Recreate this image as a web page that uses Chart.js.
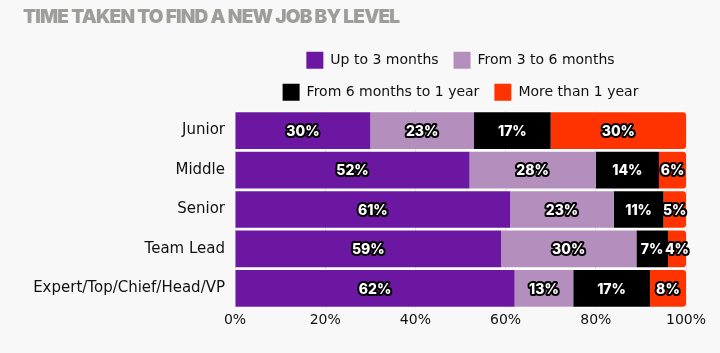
<!DOCTYPE html>
<html>
<head>
<meta charset="utf-8">
<script src="https://cdn.jsdelivr.net/npm/chart.js@4/dist/chart.umd.min.js"></script>
<style>
  html, body { margin: 0; padding: 0; background: #f8f8f8; }
  #wrap { width: 720px; height: 353px; position: relative; }
</style>
</head>
<body>
<div id="wrap"><canvas id="jobChart"></canvas></div>
<script>
// time taken to find a new job, by level (%)
const levels = ['Junior', 'Middle', 'Senior', 'Team Lead', 'Expert/Top/Chief/Head/VP'];
const seriesNames = ['Up to 3 months', 'From 3 to 6 months', 'From 6 months to 1 year', 'More than 1 year'];
const upTo3 = [30, 52, 61, 59, 62];
const from3to6 = [23, 28, 23, 30, 13];
const from6to12 = [17, 14, 11, 7, 17];
const moreThan1y = [30, 6, 5, 4, 8];
const xTicks = [0, 20, 40, 60, 80, 100];

const titleText = 'TIME TAKEN TO FIND A NEW JOB BY LEVEL';
const seriesColors = ['#6c17a1', '#b48ebd', '#000000', '#ff3300'];
const FONT = '"DejaVu Sans", "Open Sans", sans-serif';
const HEAVY = 'Inter, "Open Sans", sans-serif';

Chart.defaults.font.family = FONT;

// white plot area so the gaps between bars look like the original
const plotBg = {
    id: 'plotBg',
    beforeDraw(chart) {
        const { ctx, chartArea: a } = chart;
        ctx.save();
        ctx.fillStyle = '#ffffff';
        ctx.fillRect(a.left, a.top, a.right - a.left, a.bottom - a.top);
        ctx.restore();
    }
};

// title drawn by hand so it can be a bit tighter (title block keeps the space)
const tightTitle = {
    id: 'tightTitle',
    afterDraw(chart) {
        const tb = chart.titleBlock;
        if (!tb) return;
        const ctx = chart.ctx;
        ctx.save();
        ctx.font = '900 19px ' + HEAVY;
        ctx.letterSpacing = '-0.8px';
        ctx.fillStyle = '#9d9d9a';
        ctx.textAlign = 'left';
        ctx.textBaseline = 'middle';
        ctx.fillText(titleText, tb.left, tb.top + 2 + 11.4);
        ctx.restore();
    }
};

// outlined percentage labels in the middle of each segment
const segLabels = {
    id: 'segLabels',
    afterDatasetsDraw(chart) {
        const ctx = chart.ctx;
        ctx.save();
        ctx.font = '800 14px ' + HEAVY;
        ctx.textAlign = 'center';
        ctx.textBaseline = 'middle';
        ctx.lineJoin = 'round';
        chart.data.datasets.forEach((ds, i) => {
            const meta = chart.getDatasetMeta(i);
            meta.data.forEach((bar, j) => {
                const p = bar.getCenterPoint();
                const txt = ds.data[j] + '%';
                ctx.lineWidth = 4;
                ctx.strokeStyle = '#000';
                ctx.strokeText(txt, p.x, p.y + 1);
                ctx.fillStyle = '#fff';
                ctx.fillText(txt, p.x, p.y + 1);
            });
        });
        ctx.restore();
    }
};

const values = [upTo3, from3to6, from6to12, moreThan1y];

new Chart(document.getElementById('jobChart'), {
    type: 'bar',
    data: {
        labels: levels,
        datasets: seriesNames.map((name, i) => ({
            label: name,
            data: values[i],
            backgroundColor: seriesColors[i],
            borderWidth: 0,
            borderSkipped: false,
            borderRadius: i === 3 ? { topRight: 3, bottomRight: 3, topLeft: 0, bottomLeft: 0 } : 0,
            barPercentage: 0.93,
            categoryPercentage: 1
        }))
    },
    options: {
        indexAxis: 'y',
        responsive: true,
        maintainAspectRatio: false,
        animation: false,
        layout: { padding: { left: 23, right: 34, top: 4, bottom: 20 } },
        plugins: {
            title: {
                display: true,
                text: titleText,
                align: 'start',
                color: 'rgba(0,0,0,0)',
                font: { size: 19, weight: '900', family: HEAVY },
                padding: { top: 2, bottom: 8 }
            },
            legend: {
                position: 'top',
                fullSize: false,
                labels: {
                    boxWidth: 17,
                    boxHeight: 17,
                    padding: 15,
                    color: '#111',
                    font: { size: 14 }
                }
            },
            tooltip: { enabled: false }
        },
        scales: {
            x: {
                stacked: true,
                min: 0,
                max: 100,
                afterBuildTicks(axis) {
                    axis.ticks = xTicks.map(v => ({ value: v }));
                },
                ticks: {
                    color: '#111',
                    font: { size: 14 },
                    padding: 4,
                    callback: v => v + '%'
                },
                grid: { color: '#e4e4e4', drawTicks: false },
                border: { display: false }
            },
            y: {
                stacked: true,
                afterFit(axis) { axis.width = 212; },
                ticks: {
                    color: '#111',
                    font: { size: 15 },
                    padding: 10
                },
                grid: { display: false, drawTicks: false },
                border: { display: false }
            }
        }
    },
    plugins: [plotBg, tightTitle, segLabels]
});
</script>
</body>
</html>
